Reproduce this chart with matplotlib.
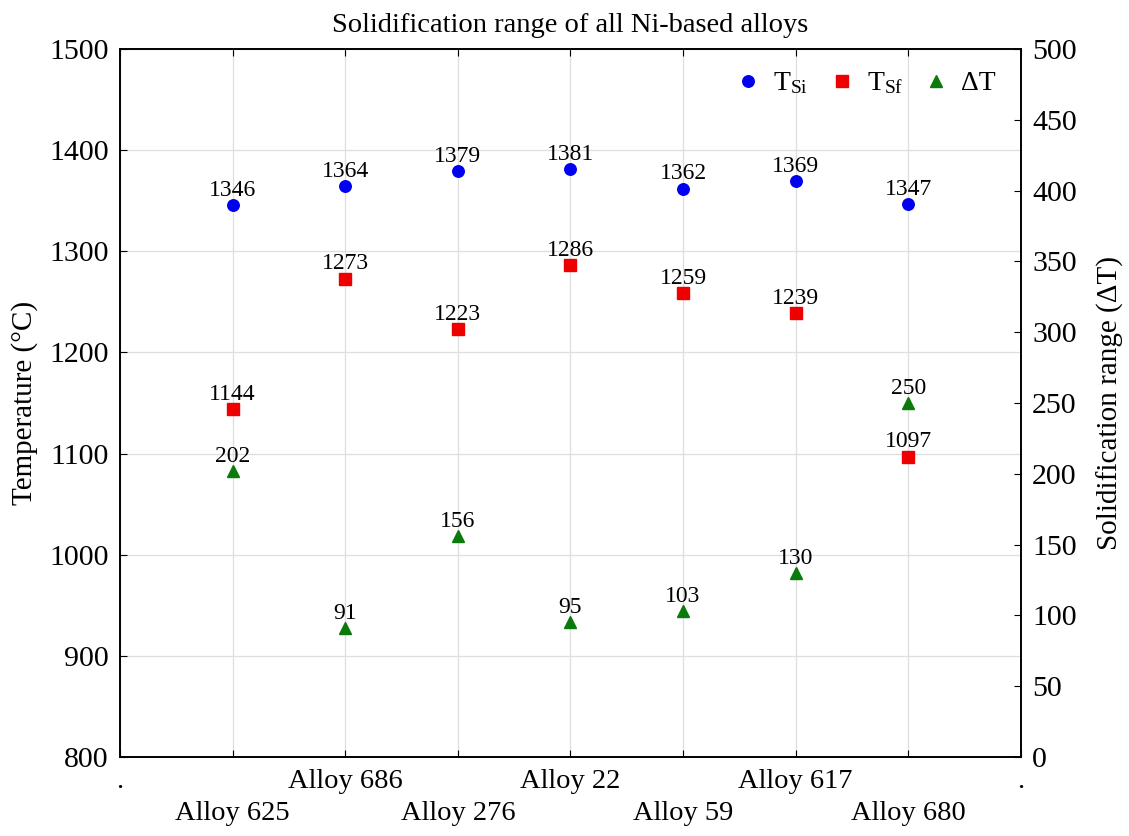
import matplotlib
matplotlib.use("Agg")
import matplotlib.pyplot as plt
import numpy as np

plt.rcParams['font.family'] = ['Liberation Serif', 'DejaVu Serif']
plt.rcParams['mathtext.fontset'] = 'custom'
plt.rcParams['mathtext.rm'] = 'Liberation Serif'
plt.rcParams['mathtext.it'] = 'Liberation Serif:italic'

# Aleaciones base niquel
aleaciones = ['Alloy 625', 'Alloy 686', 'Alloy 276', 'Alloy 22',
              'Alloy 59', 'Alloy 617', 'Alloy 680']
t_si = [1346, 1364, 1379, 1381, 1362, 1369, 1347]   # inicio de solidificacion
t_sf = [1144, 1273, 1223, 1286, 1259, 1239, 1097]   # fin de solidificacion
delta_t = [202, 91, 156, 95, 103, 130, 250]         # rango de solidificacion

x = np.arange(1, len(aleaciones) + 1)

fig = plt.figure(figsize=(11.29, 8.36), dpi=100)
ax = fig.add_axes([0.1063, 0.0945, 0.798, 0.847])
ax2 = ax.twinx()

ax.grid(True, color='#dedede', lw=0.9)
ax.set_axisbelow(True)

p1, = ax.plot(x, t_si, 'o', color='#0000ee', ms=8.3, label=r'$\mathrm{T_{Si}}$')
p2, = ax.plot(x, t_sf, 's', color='#ee0000', ms=8.8, label=r'$\mathrm{T_{Sf}}$')
p3, = ax2.plot(x, delta_t, '^', color='#0a7a0a', ms=8.5, label='ΔT')

for xi, v in zip(x, t_si):
    ax.annotate(str(v), (xi, v), xytext=(0, 3), textcoords='offset points',
                ha='center', va='bottom', fontsize=17)
for xi, v in zip(x, t_sf):
    ax.annotate(str(v), (xi, v), xytext=(0, 3), textcoords='offset points',
                ha='center', va='bottom', fontsize=17)
for xi, v in zip(x, delta_t):
    ax2.annotate(str(v), (xi, v), xytext=(0, 3), textcoords='offset points',
                 ha='center', va='bottom', fontsize=17)

# etiquetas del eje x en dos filas
ticks = np.arange(0, len(aleaciones) + 2)
etiquetas = ['.']
for i, a in enumerate(aleaciones):
    etiquetas.append('\n' + a if i % 2 == 0 else a)
etiquetas.append('.')
ax.set_xticks(ticks)
ax.set_xticklabels(etiquetas, linespacing=1.35)
ax.set_xlim(0, len(aleaciones) + 1)

ax.set_ylim(800, 1500)
ax.set_yticks(np.arange(800, 1501, 100))
ax2.set_ylim(0, 500)
ax2.set_yticks(np.arange(0, 501, 50))

ax.tick_params(axis='x', direction='in', labelsize=20.5, top=True, length=5, pad=9)
ax.tick_params(axis='y', direction='in', labelsize=21.5, length=5, pad=8)
ax2.tick_params(axis='y', direction='in', labelsize=21.5, length=5, pad=8)
for a in (ax, ax2):
    for s in a.spines.values():
        s.set_linewidth(1.2)

ax.set_ylabel('Temperature (°C)', fontsize=21, labelpad=8)
ax2.set_ylabel('Solidification range (ΔT)', fontsize=21, labelpad=14)
ax.set_title('Solidification range of all Ni-based alloys', fontsize=20.5, pad=12)

ax.legend(handles=[p1, p2, p3], loc='upper right', ncol=3, frameon=False,
          fontsize=20, handletextpad=0.3, columnspacing=0.6, handlelength=1.2,
          bbox_to_anchor=(1.0, 1.005))

fig.savefig('out.png', dpi=100)
